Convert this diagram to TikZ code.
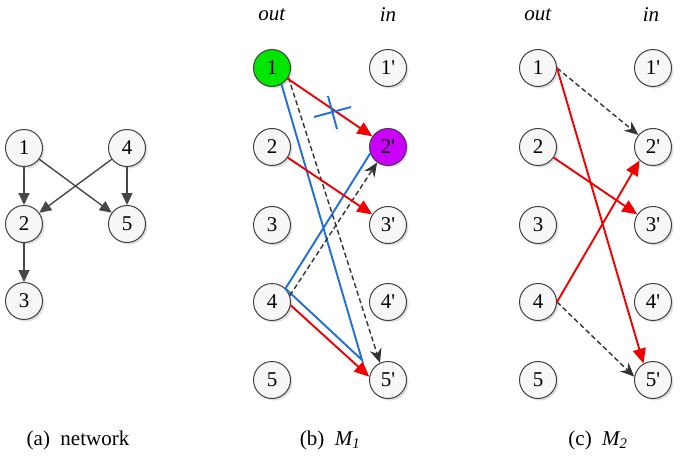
\documentclass[tikz,border=0pt]{standalone}
\usepackage{fontspec}
\setmainfont{Liberation Serif}
\usepackage{tikz}
\usetikzlibrary{arrows.meta,shadows}

\definecolor{startgreen}{RGB}{0,230,0}
\definecolor{endpurple}{RGB}{204,0,255}
\definecolor{augblue}{RGB}{30,110,220}
\definecolor{matchred}{RGB}{240,0,0}

\newcommand{\pr}{\textquotesingle}

\begin{document}
\begin{tikzpicture}[x=1pt,y=1pt,
    vertex/.style={circle,draw=black!75,fill=gray!6,line width=1pt,
        inner sep=0pt,minimum size=37pt,font=\fontsize{21}{24}\selectfont,
        drop shadow={shadow xshift=2pt,shadow yshift=-2pt,opacity=0.25}},
    label/.style={font=\fontsize{21}{24}\selectfont},
    net/.style={draw=black!72,line width=1.4pt,-{Triangle[length=12pt,width=11pt]}},
    match/.style={draw=matchred,line width=1.9pt,-{Triangle[length=15pt,width=13pt]}},
    cand/.style={draw=black!80,line width=1.4pt,dash pattern=on 5pt off 3pt,
        -{Stealth[length=14pt,width=12pt]}},
    aug/.style={draw=augblue,line width=1.9pt}]
  \useasboundingbox (0,0) rectangle (685,456);

  % (a) network
  \node[vertex] (net1) at (24,308) {1};
  \node[vertex] (net2) at (24,232) {2};
  \node[vertex] (net3) at (24,155) {3};
  \node[vertex] (net4) at (127,308) {4};
  \node[vertex] (net5) at (127,232) {5};
  \path
  (net1) edge [net] (net2)
  (net1) edge [net] (net5)
  (net4) edge [net] (net2)
  (net4) edge [net] (net5)
  (net2) edge [net] (net3);
  \node[label] (capa) at (78,16) {(a)\ \ network};

  % (b) M_1
  \node[label] (bout) at (272,441) {\textit{out}};
  \node[label] (bin) at (388,441) {\textit{in}};
  \node[vertex,fill=startgreen] (bout1) at (272,388) {1};
  \node[vertex] (bout2) at (272,309) {2};
  \node[vertex] (bout3) at (272,231) {3};
  \node[vertex] (bout4) at (272,154) {4};
  \node[vertex] (bout5) at (272,76) {5};
  \node[vertex] (bin1) at (388,388) {1\pr};
  \node[vertex,fill=endpurple] (bin2) at (388,309) {2\pr};
  \node[vertex] (bin3) at (388,231) {3\pr};
  \node[vertex] (bin4) at (388,154) {4\pr};
  \node[vertex] (bin5) at (388,76) {5\pr};
  \coordinate (turn) at (362,96);
  \coordinate (cut) at (333,344);
  \draw[aug] (bout1.-60) -- (turn) -- (bout4.45) -- (bin2.200);
  \path
  (bout1.-30) edge [cand] (bin5.115)
  (bout4.20) edge [cand] (bin2.235);
  \path
  (bout1) edge [match] (bin2)
  (bout2) edge [match] (bin3)
  (bout4.-10) edge [match] (bin5.170);
  \draw[aug] ([shift={(-19,-5)}]cut) -- ([shift={(18,5)}]cut);
  \draw[aug] ([shift={(-5,16)}]cut) -- ([shift={(4,-17)}]cut);
  \node[label] (capb) at (330,16) {(b)\ \ \textit{M\textsubscript{1}}};

  % (c) M_2
  \node[label] (cout) at (538,441) {\textit{out}};
  \node[label] (cin) at (651,441) {\textit{in}};
  \node[vertex] (cout1) at (538,388) {1};
  \node[vertex] (cout2) at (538,309) {2};
  \node[vertex] (cout3) at (538,231) {3};
  \node[vertex] (cout4) at (538,154) {4};
  \node[vertex] (cout5) at (538,76) {5};
  \node[vertex] (cin1) at (653,388) {1\pr};
  \node[vertex] (cin2) at (653,309) {2\pr};
  \node[vertex] (cin3) at (653,231) {3\pr};
  \node[vertex] (cin4) at (653,154) {4\pr};
  \node[vertex] (cin5) at (653,76) {5\pr};
  \path
  (cout1.east) edge [cand] (cin2)
  (cout4.east) edge [cand] (cin5.170);
  \path
  (cout1.east) edge [match] (cin5.120)
  (cout2) edge [match] (cin3)
  (cout4.east) edge [match] (cin2.225);
  \node[label] (capc) at (598,16) {(c)\ \ \textit{M\textsubscript{2}}};
\end{tikzpicture}
\end{document}
